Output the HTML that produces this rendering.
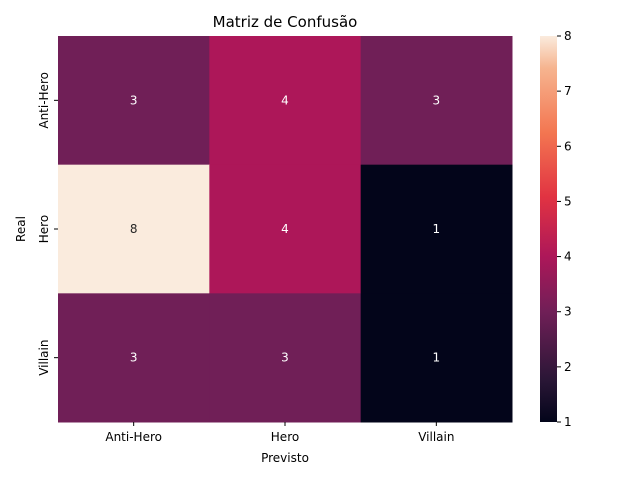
<!DOCTYPE html>
<html><head><meta charset="utf-8"><style>
body{margin:0;background:#fff;font-family:"Liberation Sans","DejaVu Sans",sans-serif}
svg text{font-family:"DejaVu Sans","Liberation Sans",sans-serif}
</style></head><body>
<svg id="chart" width="640" height="480" xmlns="http://www.w3.org/2000/svg">
<defs><linearGradient id="cbg" x1="0" y1="1" x2="0" y2="0"></linearGradient></defs>
<text x="285" y="27" font-size="15" text-anchor="middle">Matriz de Confusão</text>
<g id="cells"></g><g id="axes"></g>
<text x="285" y="462" font-size="12" text-anchor="middle">Previsto</text>
<text x="25" y="229" font-size="12" text-anchor="middle" transform="rotate(-90 25 229)">Real</text>
</svg>
<script>
const categories=["Anti-Hero","Hero","Villain"];
const predicted=["Anti-Hero","Hero","Villain"];
const row0=[3,4,3];
const row1=[8,4,1];
const row2=[3,3,1];
const cbTicks=[1,2,3,4,5,6,7,8];
const matrix=[row0,row1,row2];
const vmin=1,vmax=8;
const stops=[[0,"#03051a"],[0.11,"#2a1636"],[0.2857,"#701f57"],[0.4286,"#ad1759"],[0.583,"#e13342"],[0.75,"#f37651"],[0.917,"#f6b48f"],[1,"#faebdd"]];
function hex(c){return [1,3,5].map(i=>parseInt(c.substr(i,2),16));}
function cmap(v){const t=(v-vmin)/(vmax-vmin);for(let i=1;i<stops.length;i++){if(t<=stops[i][0]+1e-9){const a=stops[i-1],b=stops[i];const f=Math.min(1,(t-a[0])/(b[0]-a[0]));const ca=hex(a[1]),cb=hex(b[1]);return "rgb("+ca.map((x,k)=>Math.round(x+(cb[k]-x)*f)).join(",")+")";}}return stops[stops.length-1][1];}
const NS="http://www.w3.org/2000/svg";
const X0=58,Y0=36,W=454,H=386;
const cw=W/predicted.length,ch=H/categories.length;
const xs=j=>X0+j*cw, ys=i=>Y0+i*ch;
const cells=document.getElementById('cells'),axes=document.getElementById('axes');
function mk(tag,at,p){const e=document.createElementNS(NS,tag);for(const k in at)e.setAttribute(k,at[k]);p.appendChild(e);return e;}
matrix.forEach((row,i)=>row.forEach((v,j)=>{
 const r=mk('rect',{x:xs(j),y:ys(i),width:cw+0.5,height:ch+0.5,fill:cmap(v)},cells);
 
 
 const t=mk('text',{x:xs(j)+cw/2,y:ys(i)+ch/2+4,'font-size':12,'text-anchor':'middle',fill:v>5?'#262626':'#fff'},cells);
 t.textContent=v;
 
 
}));
predicted.forEach((c,j)=>{
 const x=xs(j)+cw/2;
 mk('line',{x1:x,x2:x,y1:Y0+H,y2:Y0+H+4,stroke:'#000'},axes);
 const t=mk('text',{x:x,y:Y0+H+19,'font-size':12,'text-anchor':'middle'},axes);t.textContent=c;
 
 
});
categories.forEach((c,i)=>{
 const y=ys(i)+ch/2;
 mk('line',{x1:X0-4,x2:X0,y1:y,y2:y,stroke:'#000'},axes);
 const t=mk('text',{x:X0-10,y:y,'font-size':12,'text-anchor':'middle',transform:`rotate(-90 ${X0-10} ${y})`},axes);t.textContent=c;
 
 
});
const g=document.getElementById('cbg');
stops.forEach(s=>mk('stop',{offset:s[0],'stop-color':s[1]},g));
const CX=540,CW=17;
const cb=mk('rect',{x:CX,y:Y0,width:CW,height:H,fill:'url(#cbg)'},axes);


const cy=v=>Y0+H-(v-vmin)/(vmax-vmin)*H;
cbTicks.forEach(v=>{
 mk('line',{x1:CX+CW,x2:CX+CW+4,y1:cy(v),y2:cy(v),stroke:'#000'},axes);
 const t=mk('text',{x:CX+CW+7,y:cy(v)+4,'font-size':12},axes);t.textContent=v;
 
 
});
</script>
</body></html>
